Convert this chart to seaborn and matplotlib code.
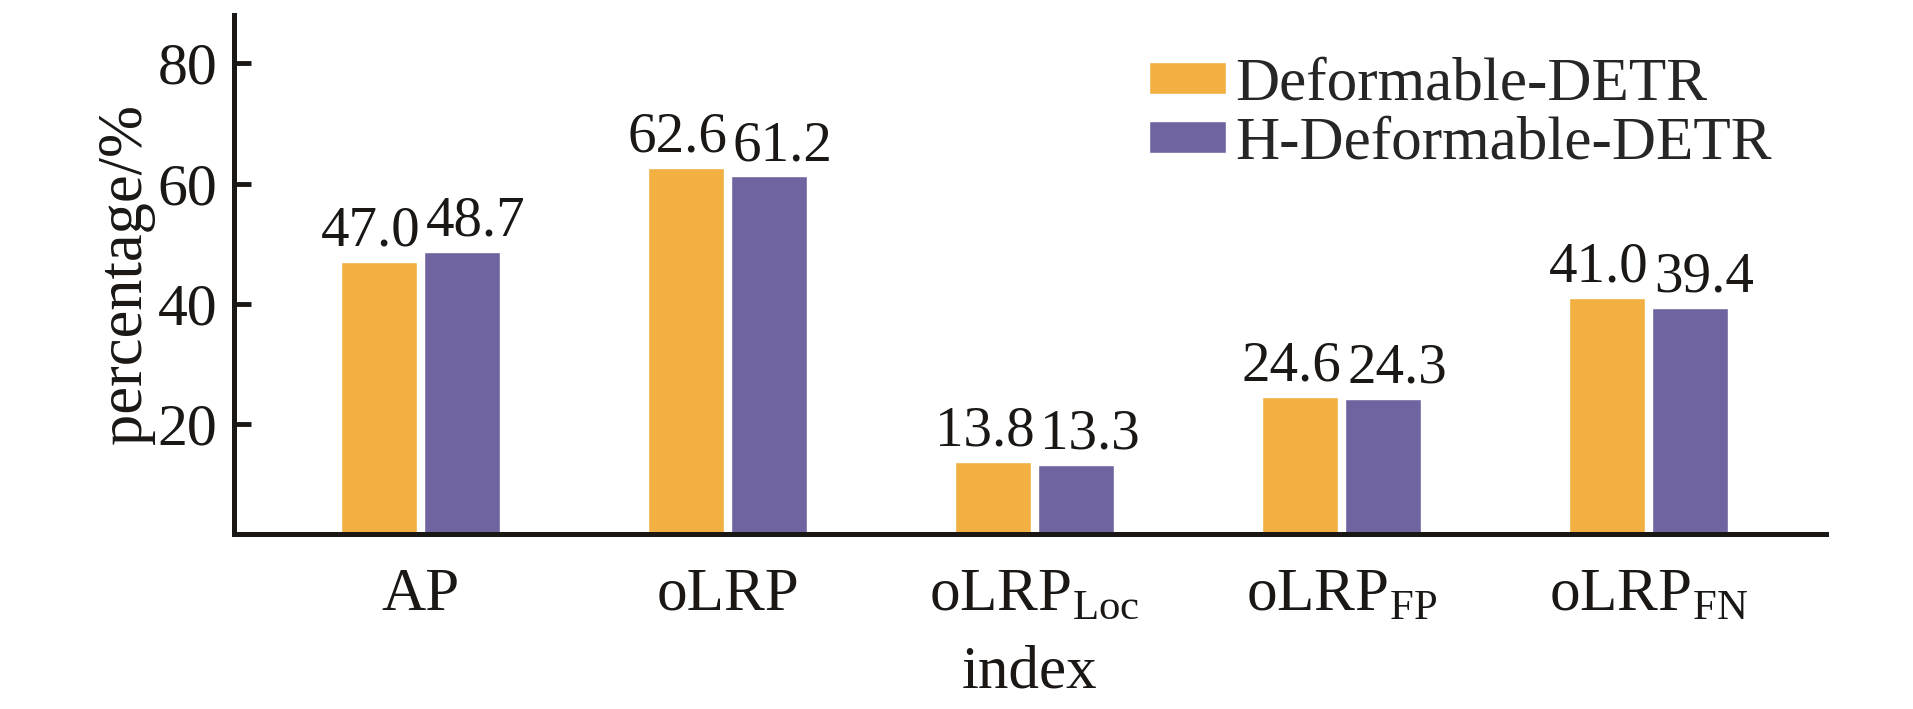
import matplotlib
matplotlib.use("Agg")
import matplotlib.pyplot as plt
import pandas as pd
import seaborn as sns

# datos
indices = ["AP", "oLRP", r"oLRP$_{\mathrm{Loc}}$", r"oLRP$_{\mathrm{FP}}$", r"oLRP$_{\mathrm{FN}}$"]
modelos = ["Deformable-DETR", "H-Deformable-DETR"]
deformable_detr = [47.0, 62.6, 13.8, 24.6, 41.0]
h_deformable_detr = [48.7, 61.2, 13.3, 24.3, 39.4]
colores = ["#F1B041", "#6F649F"]

df = pd.DataFrame({
    "index": indices * 2,
    "modelo": [modelos[0]] * len(indices) + [modelos[1]] * len(indices),
    "percentage": deformable_detr + h_deformable_detr,
})

sns.set_theme(style="ticks")
plt.rcParams["font.family"] = ["Liberation Serif", "DejaVu Serif"]
plt.rcParams["mathtext.fontset"] = "custom"
plt.rcParams["mathtext.rm"] = "Liberation Serif"
texto = "#1a1715"

fig, ax = plt.subplots(figsize=(19.13, 7.09), dpi=100)
fig.subplots_adjust(left=0.1223, right=0.9545, bottom=0.2468, top=0.979)

sns.barplot(data=df, x="index", y="percentage", hue="modelo", hue_order=modelos,
            palette=colores, width=0.54, gap=0.075, errorbar=None, saturation=1,
            ax=ax)

# etiquetas de valor, un poco separadas hacia fuera
desplaz = [-6, 10]
for cont, dx in zip(ax.containers, desplaz):
    etiquetas = ax.bar_label(cont, fmt="%.1f", padding=3, fontsize=41, color=texto)
    for et in etiquetas:
        et.xyann = (dx, et.xyann[1])

ax.set_ylim(1.8, 88)
ax.set_xlim(-0.608, 4.578)
ax.set_yticks([20, 40, 60, 80])
ax.tick_params(axis="y", direction="in", length=12, width=3.5, labelsize=43, pad=12,
               colors=texto)
ax.tick_params(axis="x", length=0, labelsize=44, pad=24, colors=texto)
for s in ["top", "right"]:
    ax.spines[s].set_visible(False)
for s in ["left", "bottom"]:
    ax.spines[s].set_linewidth(3.6)
    ax.spines[s].set_color(texto)

ax.set_xlabel("index", fontsize=44, color=texto, labelpad=16)
ax.set_ylabel("percentage/%", fontsize=45, color=texto, labelpad=2)

handles, labels = ax.get_legend_handles_labels()
ax.legend(handles, labels, loc="upper left", bbox_to_anchor=(0.575, 0.918),
          frameon=False, fontsize=44, handlelength=1.25, handleheight=0.43,
          handletextpad=0.15, labelspacing=0.05, borderpad=0, borderaxespad=0)

plt.savefig("out.png", dpi=100)
